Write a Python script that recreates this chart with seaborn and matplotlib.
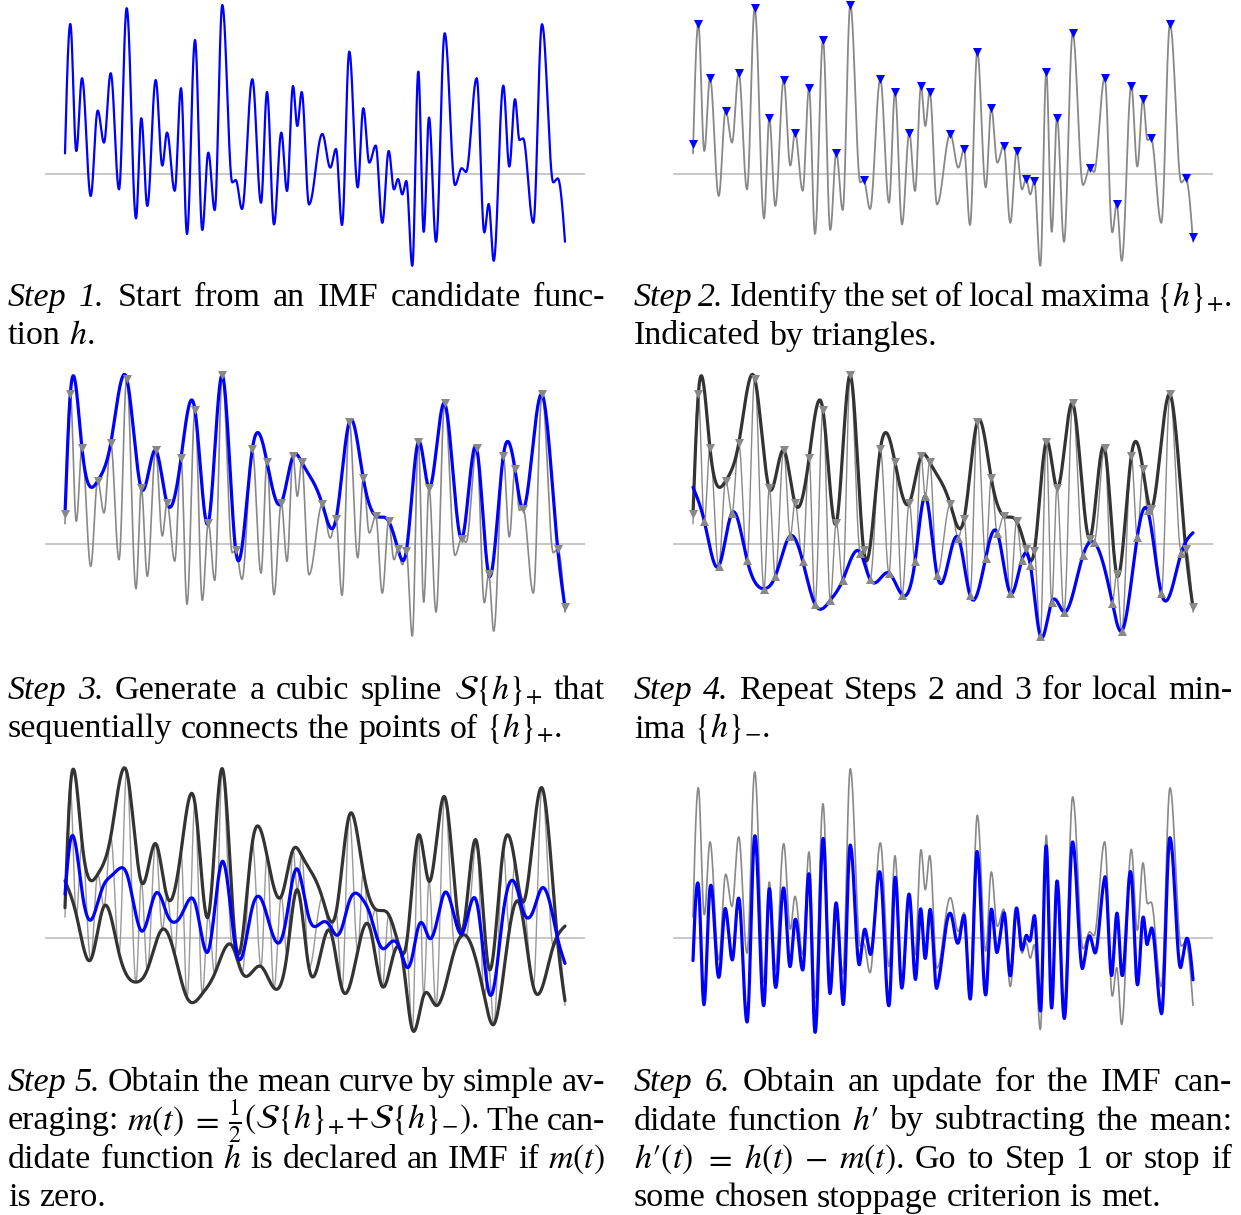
import numpy as np
import matplotlib
matplotlib.use("Agg")
import matplotlib.pyplot as plt
import seaborn as sns
from matplotlib.transforms import IdentityTransform

# ---------------- data: turning points of the IMF candidate h(t) ----------------
h_t = [0.0, 1.06, 2.26, 3.40, 5.14, 6.54, 7.80, 9.14, 10.80, 12.34, 14.20, 15.26,
       16.46, 18.14, 19.46, 20.40, 21.94, 23.20, 24.40, 26.00, 27.46, 28.66, 29.94,
       31.46, 33.46, 34.14, 35.40, 37.46, 39.20, 40.40, 41.80, 43.26, 44.40, 45.60,
       46.46, 47.34, 48.80, 51.46, 53.06, 54.20, 55.40, 56.86, 58.54, 59.66, 60.86,
       62.14, 63.46, 64.74, 65.80, 66.60, 67.46, 68.26, 69.46, 70.66, 71.74, 72.80,
       74.20, 75.94, 78.00, 79.34, 80.20, 82.34, 83.86, 84.74, 85.74, 87.66, 88.86,
       90.00, 90.90, 91.60, 93.66, 95.40, 97.66, 98.54, 100.0]
h_v = [1.03, 7.50, 1.15, 4.79, -1.10, 3.17, 1.57, 5.04, -0.77, 8.29, -2.22, 2.79,
       -1.60, 4.70, 0.42, 2.07, -0.84, 4.29, -3.00, 6.70, -2.80, 1.07, -1.80,
       8.45, -0.42, -0.30, -1.75, 4.74, -1.44, 4.10, -2.52, 2.07, -0.85, 4.40,
       2.40, 4.10, -1.52, 2.00, 0.32, 1.25, -2.55, 6.12, -0.67, 3.29, 0.57,
       1.42, -2.44, 1.15, -0.77, -0.25, -1.02, -0.35, -4.59, 5.12, -2.89, 2.82,
       -3.39, 7.04, -0.55, 0.29, 0.10, 4.79, -2.92, -1.50, -4.34, 4.42, 0.37,
       3.74, 1.70, 1.78, -2.44, 7.49, -0.42, -0.22, -3.39]
# end-point values used by the envelopes
bound_t = [0.0, 100.0]
bound_max = [1.50, -3.15]
bound_min = [2.85, 0.58]

# ---------------- captions ----------------
cap1 = ["*Step* *1.* Start from an IMF candidate func-", "tion $h$."]
cap2 = [r"*Step* *2.* Identify the set of local maxima $\{h\}_{+}$.", "Indicated by triangles."]
cap3 = [r"*Step* *3.* Generate a cubic spline $\mathcal{S}\{h\}_{+}$ that",
        r"sequentially connects the points of $\{h\}_{+}$."]
cap4 = ["*Step* *4.* Repeat Steps 2 and 3 for local min-", r"ima $\{h\}_{-}$."]
cap5 = ["*Step* *5.* Obtain the mean curve by simple av-",
        r"eraging: $m(t)$ $=$ $\frac{1}{2}(\mathcal{S}\{h\}_{+}\!+\!\mathcal{S}\{h\}_{-})$. The can-",
        r"didate function $h$ is declared an IMF if $m(t)$",
        "is zero."]
cap6 = ["*Step* *6.* Obtain an update for the IMF can-",
        r"didate function $h\prime$ by subtracting the mean:",
        r"$h\prime(t)$ $=$ $h(t)$ $-$ $m(t)$. Go to Step 1 or stop if",
        "some chosen stoppage criterion is met."]

# ---------------- helpers ----------------
def dense_curve(tk, vk, n=40):
    tk = np.asarray(tk, float); vk = np.asarray(vk, float)
    ts, vs = [], []
    last = len(tk) - 2
    for i in range(len(tk) - 1):
        s = np.linspace(0, 1, n, endpoint=(i == last))
        if i == 0:
            w = np.sin(np.pi / 2 * s)
        elif i == last:
            w = 1 - np.cos(np.pi / 2 * s)
        else:
            w = (1 - np.cos(np.pi * s)) / 2
        ts.append(tk[i] + (tk[i + 1] - tk[i]) * s)
        vs.append(vk[i] + (vk[i + 1] - vk[i]) * w)
    return np.concatenate(ts), np.concatenate(vs)


def cubic_spline(xk, yk, x):
    """natural cubic spline through (xk, yk), evaluated at x"""
    xk = np.asarray(xk, float); yk = np.asarray(yk, float)
    n = len(xk)
    hk = np.diff(xk)
    A = np.zeros((n, n)); b = np.zeros(n)
    A[0, 0] = 1.0; A[-1, -1] = 1.0
    for i in range(1, n - 1):
        A[i, i - 1] = hk[i - 1]; A[i, i] = 2 * (hk[i - 1] + hk[i]); A[i, i + 1] = hk[i]
        b[i] = 6 * ((yk[i + 1] - yk[i]) / hk[i] - (yk[i] - yk[i - 1]) / hk[i - 1])
    M = np.linalg.solve(A, b)
    idx = np.clip(np.searchsorted(xk, x) - 1, 0, n - 2)
    x0 = xk[idx]; x1 = xk[idx + 1]; hh = x1 - x0
    a = (x1 - x) / hh; c = (x - x0) / hh
    return a * yk[idx] + c * yk[idx + 1] + ((a ** 3 - a) * M[idx] + (c ** 3 - c) * M[idx + 1]) * hh ** 2 / 6


# ---------------- computations (EMD sifting step) ----------------
T, H = dense_curve(h_t, h_v)
kv = np.asarray(h_v); kt = np.asarray(h_t)
is_max = np.r_[False, (kv[1:-1] > kv[:-2]) & (kv[1:-1] > kv[2:]), False]
is_min = np.r_[False, (kv[1:-1] < kv[:-2]) & (kv[1:-1] < kv[2:]), False]
max_t = np.r_[bound_t[0], kt[is_max], bound_t[1]]
max_v = np.r_[bound_max[0], kv[is_max], bound_max[1]]
min_t = kt[is_min]; min_v = kv[is_min]
upper = cubic_spline(max_t, max_v, T)
lower = cubic_spline(np.r_[bound_t[0], min_t, bound_t[1]],
                     np.r_[bound_min[0], min_v, bound_min[1]], T)
mean = (upper + lower) / 2
h_new = H - mean

# ---------------- figure ----------------
sns.set_theme(style="white")
plt.rcParams["font.family"] = ["Liberation Serif", "DejaVu Serif"]
plt.rcParams["mathtext.fontset"] = "stix"

W, HGT = 1241, 1215
fig = plt.figure(figsize=(W / 100, HGT / 100), dpi=100)
fig.patch.set_facecolor("white")

BLUE = "#0000ff"; DARK = "#333333"; GRAY = "#888888"; BASE = "#c8c8c8"


def make_ax(x0, top):
    ax = fig.add_axes([x0 / W, 1 - (top + 270) / HGT, 540 / W, 270 / HGT])
    ax.set_xlim(-4, 104); ax.set_ylim(-4.8, 8.7)
    ax.axis("off")
    ax.axhline(0, color=BASE, lw=1.4, zorder=0)
    return ax


def line(ax, x, y, color, lw, z=2):
    sns.lineplot(x=x, y=y, ax=ax, color=color, linewidth=lw, estimator=None,
                 sort=False, legend=False, zorder=z)


def marks(ax, x, y, marker, color, z=5):
    sns.scatterplot(x=x, y=y, ax=ax, marker=marker, s=42, color=color,
                    edgecolor=color, linewidth=0, legend=False, zorder=z)


LX, RX = 45, 673
tops = [0, 370.3, 763.7]

ax1 = make_ax(LX, tops[0])
line(ax1, T, H, BLUE, 1.6)

ax2 = make_ax(RX, tops[0])
line(ax2, T, H, GRAY, 1.3)
marks(ax2, max_t, max_v, "v", BLUE)

ax3 = make_ax(LX, tops[1])
line(ax3, T, H, GRAY, 1.2)
line(ax3, T, upper, BLUE, 2.3, 3)
marks(ax3, max_t, max_v, "v", GRAY)

ax4 = make_ax(RX, tops[1])
line(ax4, T, H, GRAY, 1.0)
line(ax4, T, upper, DARK, 2.3, 3)
line(ax4, T, lower, BLUE, 2.3, 3)
marks(ax4, max_t, max_v, "v", GRAY)
marks(ax4, min_t, min_v, "^", GRAY)

ax5 = make_ax(LX, tops[2])
line(ax5, T, H, "#999999", 1.0)
line(ax5, T, upper, DARK, 2.3, 3)
line(ax5, T, lower, DARK, 2.3, 3)
line(ax5, T, mean, BLUE, 2.3, 4)

ax6 = make_ax(RX, tops[2])
line(ax6, T, H, GRAY, 1.2)
line(ax6, T, h_new, BLUE, 2.3, 3)

# ---------------- justified captions ----------------
FS = 24.5
renderer = fig.canvas.get_renderer()
SPACE = 0.25 * FS * 100 / 72


def place_line(text, x0, x1, ybase, justify):
    objs, widths = [], []
    for tok in text.split(" "):
        italic = tok.startswith("*") and tok.endswith("*") and len(tok) > 1
        s = tok[1:-1] if italic else tok
        t = fig.text(0, 0, s, transform=IdentityTransform(), fontsize=FS,
                     style="italic" if italic else "normal", va="baseline", ha="left",
                     color="black")
        objs.append(t)
        widths.append(t.get_window_extent(renderer).width)
    gap = SPACE
    if justify and len(objs) > 1:
        gap = (x1 - x0 - sum(widths)) / (len(objs) - 1)
    x = x0
    for o, w in zip(objs, widths):
        o.set_position((x, HGT - ybase))
        x += w + gap


def caption(lines, x0, x1, bases):
    for i, (ln, yb) in enumerate(zip(lines, bases)):
        place_line(ln, x0, x1, yb, justify=(i < len(lines) - 1))


b1 = [306, 344.5]
b2 = [699, 737.5]
b3 = [1091, 1129.5, 1168, 1206.5]
caption(cap1, 8, 605, b1)
caption(cap2, 634, 1232, b1)
caption(cap3, 8, 605, b2)
caption(cap4, 634, 1232, b2)
caption(cap5, 8, 605, b3)
caption(cap6, 634, 1232, b3)

fig.savefig("out.png", dpi=100, facecolor="white")
